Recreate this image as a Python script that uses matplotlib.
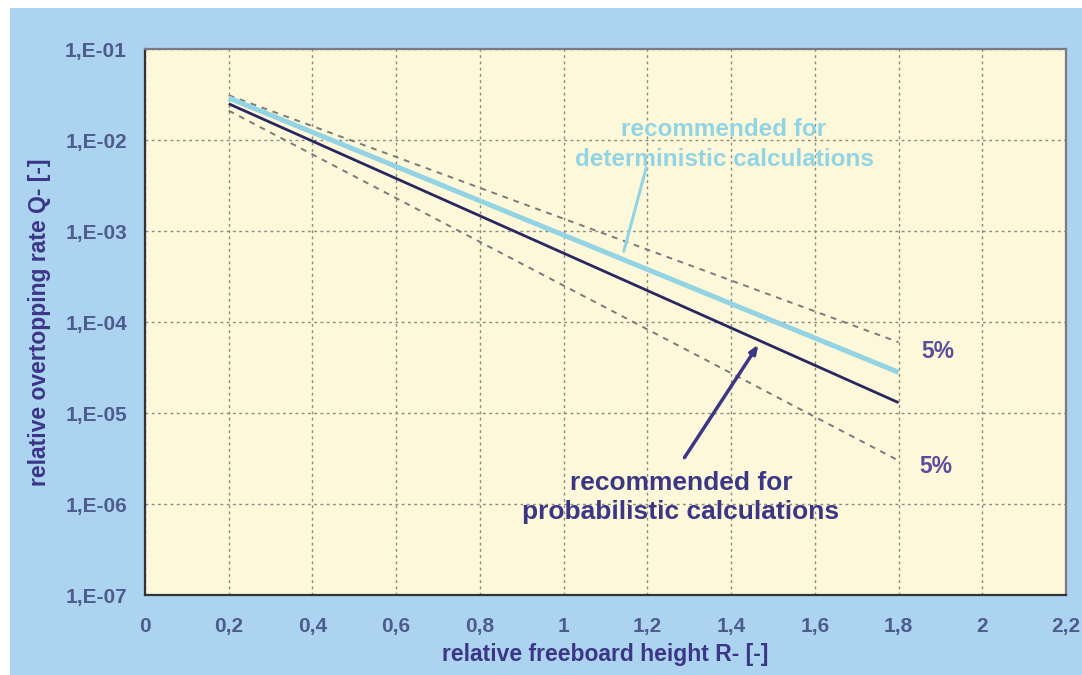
import numpy as np
import matplotlib
matplotlib.use("Agg")
import matplotlib.pyplot as plt
from matplotlib.patches import Rectangle

plt.rcParams['font.family'] = ['Liberation Sans', 'DejaVu Sans']

# data
x_line = [0.2, 1.8]
q_probabilistic = [2.5e-2, 1.3e-5]
q_deterministic = [2.9e-2, 2.8e-5]
q_upper_5 = [3.1e-2, 6.0e-5]
q_lower_5 = [2.1e-2, 3.0e-6]

x_ticks = [0, 0.2, 0.4, 0.6, 0.8, 1.0, 1.2, 1.4, 1.6, 1.8, 2.0, 2.2]
x_tick_labels = ["0", "0,2", "0,4", "0,6", "0,8", "1", "1,2", "1,4", "1,6", "1,8", "2", "2,2"]
y_ticks = [1e-7, 1e-6, 1e-5, 1e-4, 1e-3, 1e-2, 1e-1]
y_tick_labels = ["1,E-07", "1,E-06", "1,E-05", "1,E-04", "1,E-03", "1,E-02", "1,E-01"]

PANEL = "#acd4f0"
FACE = "#fdf8da"
NAVY = "#3b3686"
DARK = "#2a2662"
CYAN = "#93d4e4"
TICKC = "#4d5c8c"
PURPLE = "#5a4c9c"

fig = plt.figure(figsize=(10.82, 6.75), dpi=100, facecolor="white")
fig.patches.append(Rectangle((10 / 1082, 0.0), 1.0, 1 - 8 / 675,
                             transform=fig.transFigure, facecolor=PANEL,
                             edgecolor="none", zorder=-10))

ax = fig.add_axes([145 / 1082, 1 - 595 / 675, (1066 - 145) / 1082, (595 - 49) / 675])
ax.set_facecolor(FACE)
ax.set_yscale("log")
ax.set_xlim(0, 2.2)
ax.set_ylim(1e-7, 1e-1)

ax.set_xticks(x_ticks)
ax.set_xticklabels(x_tick_labels)
ax.set_yticks(y_ticks)
ax.set_yticklabels(y_tick_labels)
ax.yaxis.set_minor_locator(matplotlib.ticker.NullLocator())
ax.tick_params(axis="both", length=0, labelsize=15, colors=TICKC)
ax.tick_params(axis="x", pad=16)
ax.tick_params(axis="y", pad=13)
for lab in ax.get_xticklabels() + ax.get_yticklabels():
    lab.set_fontweight("bold")

ax.grid(True, color="#8a8a80", linestyle=(0, (2, 2.5)), linewidth=1.0)
ax.set_axisbelow(True)

for side in ["left", "bottom"]:
    ax.spines[side].set_color("#333333")
    ax.spines[side].set_linewidth(1.6)
for side in ["top", "right"]:
    ax.spines[side].set_color("#7a7a86")
    ax.spines[side].set_linewidth(1.6)

# 5% bounds
ax.plot(x_line, q_upper_5, color="#7a7a7a", linestyle=(0, (3, 3)), linewidth=1.4)
ax.plot(x_line, q_lower_5, color="#7a7a7a", linestyle=(0, (3, 3)), linewidth=1.4)
# recommended lines
ax.plot(x_line, q_deterministic, color=CYAN, linewidth=3.6, solid_capstyle="butt")
ax.plot(x_line, q_probabilistic, color=DARK, linewidth=2.0, solid_capstyle="butt")

# annotations
ax.annotate("", xy=(1.142, 5.6e-4), xytext=(1.199, 5.3e-3),
            arrowprops=dict(arrowstyle="-", color=CYAN, lw=2.2))
ax.text(1.383, 9.0e-3, "recommended for\ndeterministic calculations",
        ha="center", va="center", color=CYAN, fontsize=17.5, fontweight="bold",
        linespacing=1.4)

ax.annotate("", xy=(1.469, 6.0e-5), xytext=(1.285, 3.05e-6),
            arrowprops=dict(arrowstyle="-|>,head_length=0.5,head_width=0.2",
                            color=NAVY, lw=2.5))
ax.text(1.28, 1.17e-6, "recommended for\nprobabilistic calculations",
        ha="center", va="center", color=NAVY, fontsize=19, fontweight="bold",
        linespacing=1.25)

ax.text(1.894, 4.7e-5, "5%", ha="center", va="center", color=PURPLE,
        fontsize=16.5, fontweight="bold")
ax.text(1.888, 2.6e-6, "5%", ha="center", va="center", color=PURPLE,
        fontsize=16.5, fontweight="bold")

ax.set_xlabel("relative freeboard height R- [-]", color=NAVY, fontsize=16.5,
              fontweight="bold", labelpad=5)
ax.set_ylabel("relative overtopping rate Q- [-]", color=NAVY, fontsize=16.5,
              fontweight="bold", labelpad=10)

fig.savefig("out.png", dpi=100, facecolor=fig.get_facecolor())
